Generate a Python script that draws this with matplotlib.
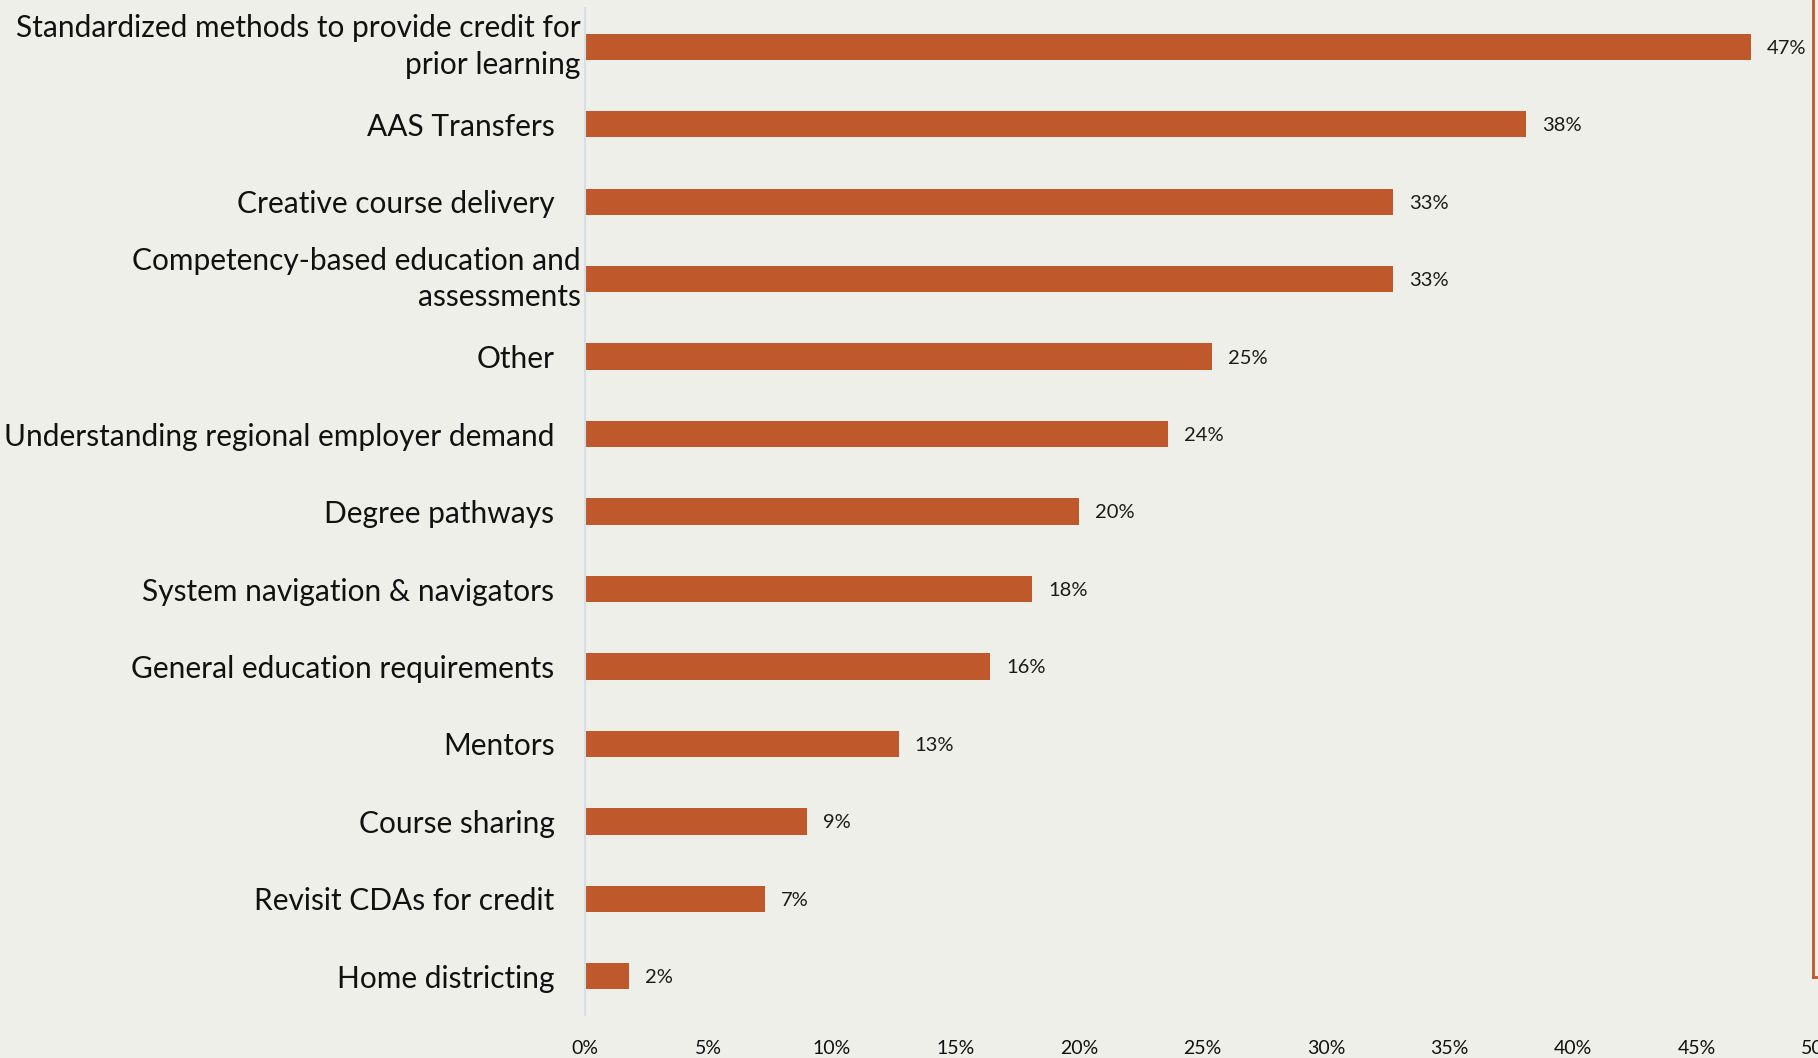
import matplotlib
matplotlib.use("Agg")
import matplotlib.pyplot as plt
from matplotlib.lines import Line2D
from matplotlib.ticker import PercentFormatter
from matplotlib.transforms import ScaledTranslation

# data, top to bottom (percent of respondents)
labels = ["Standardized methods to provide credit for\nprior learning",
          "AAS Transfers",
          "Creative course delivery",
          "Competency-based education and\nassessments",
          "Other",
          "Understanding regional employer demand",
          "Degree pathways",
          "System navigation & navigators",
          "General education requirements",
          "Mentors",
          "Course sharing",
          "Revisit CDAs for credit",
          "Home districting"]
values = [47.2, 38.1, 32.7, 32.7, 25.4, 23.6, 20.0, 18.1, 16.4, 12.7, 9.0, 7.3, 1.8]
xticks = [0, 5, 10, 15, 20, 25, 30, 35, 40, 45, 50]

bg = "#EFEFEA"
bar_color = "#BF582B"

plt.rcParams['font.family'] = ['Lato', 'DejaVu Sans']

fig = plt.figure(figsize=(18.18, 10.58), dpi=100, facecolor=bg)
ax = fig.add_axes([0.3218, 0.0406, 0.6793, 0.9518])
ax.set_facecolor(bg)

pos = list(range(len(values)))
ax.barh(pos, values, height=0.34, color=bar_color)
ax.set_ylim(len(values) - 0.5, -0.5)
ax.set_xlim(0, 50)

for p, v in zip(pos, values):
    ax.annotate(f"{round(v)}%", (v, p), xytext=(11.5, -1), textcoords="offset points",
                va="center", ha="left", fontsize=14.5, color="#1a1a1a")

ax.set_yticks(pos)
ax.set_yticklabels(labels, fontsize=21.5, color="#111111", multialignment="right",
                   linespacing=1.36)
ax.tick_params(axis="y", length=0, pad=22)
ticks = ax.yaxis.get_major_ticks()
for i, lab in enumerate(labels):
    if "\n" in lab:
        ticks[i].set_pad(3)
        # wrapped labels sit a little higher in the original
        tl = ticks[i].label1
        tl.set_transform(tl.get_transform() + ScaledTranslation(0, 5 / 72, fig.dpi_scale_trans))

ax.set_xticks(xticks)
ax.xaxis.set_major_formatter(PercentFormatter(decimals=0))
ax.tick_params(axis="x", length=0, labelsize=14, pad=18, colors="#111111")

for s in ["top", "right", "bottom"]:
    ax.spines[s].set_visible(False)
ax.spines["left"].set_color("#D6DEE6")
ax.spines["left"].set_linewidth(1.5)

# orange frame edge showing at the right border
fig.add_artist(Line2D([0.9975, 0.9975], [1.0, 0.0765], transform=fig.transFigure,
                      color=bar_color, lw=2))
fig.add_artist(Line2D([0.9975, 1.0], [0.0765, 0.0765], transform=fig.transFigure,
                      color=bar_color, lw=2))

fig.savefig("out.png", dpi=100, facecolor=bg)
